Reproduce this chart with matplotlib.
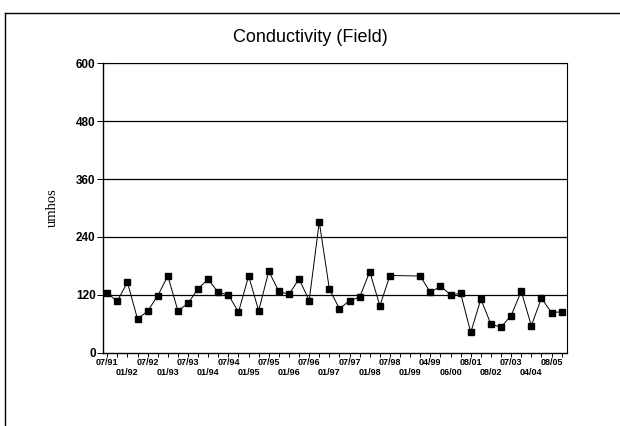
import numpy as np
import matplotlib
matplotlib.use("Agg")
import matplotlib.pyplot as plt
from matplotlib.lines import Line2D

# Quarterly samples, index 0..45 (two missing quarters shown as NaN)
values = [123, 107, 146, 70, 86, 118, 159, 87, 102, 133,
          152, 125, 120, 84, 159, 87, 169, 127, 121, 153,
          108, 271, 132, 91, 108, 115, 168, 97, 160, np.nan,
          np.nan, 159, 125, 138, 120, 123, 42, 111, 59, 53,
          77, 127, 56, 113, 83, 85]
tick_labels = ["07/91", "01/92", "07/92", "01/93", "07/93", "01/94",
               "07/94", "01/95", "07/95", "01/96", "07/96", "01/97",
               "07/97", "01/98", "07/98", "01/99", "04/99", "06/00",
               "08/01", "08/02", "07/03", "04/04", "08/05"]
y_ticks = [0, 120, 240, 360, 480, 600]

fig = plt.figure(figsize=(6.2, 4.26), dpi=100)
ax = fig.add_axes([0.1656, 0.1721, 0.7484, 0.6793])

x = np.arange(len(values))
v = np.array(values, dtype=float)
ok = ~np.isnan(v)
ax.plot(x[ok], v[ok], color="black", lw=0.7, marker="s", ms=3.8,
        mfc="black", mec="black", zorder=3)

ax.set_xlim(-0.45, 45.5)
ax.set_ylim(0, 600)
ax.set_yticks(y_ticks)
ax.set_yticklabels([str(t) for t in y_ticks], fontsize=8.5,
                   fontweight="bold", family="Liberation Sans")
for t in y_ticks[1:]:
    ax.axhline(t, color="black", lw=0.9, zorder=1)

# top-row labels on major ticks, bottom-row labels on minor ticks
major = [i for i in x if i % 4 == 0 and i // 2 < len(tick_labels)]
minor = [i for i in x if i not in major]
ax.set_xticks(major)
ax.set_xticklabels([tick_labels[i // 2] for i in major], fontsize=6.5,
                   fontweight="bold", family="Liberation Sans")
ax.set_xticks(minor, minor=True)
ax.set_xticklabels([tick_labels[i // 2] if (i % 4 == 2 and i // 2 < len(tick_labels)) else ""
                    for i in minor], minor=True, fontsize=6.5,
                   fontweight="bold", family="Liberation Sans")
ax.tick_params(axis="x", which="major", direction="out", length=3, width=0.7, pad=1)
ax.tick_params(axis="x", which="minor", direction="out", length=3, width=0.7, pad=8)
ax.tick_params(axis="y", direction="out", length=4, width=0.7, pad=1)

for s in ["left", "bottom"]:
    ax.spines[s].set_linewidth(1.0)
for s in ["top", "right"]:
    ax.spines[s].set_linewidth(0.8)

ax.set_ylabel("umhos", fontsize=10.5, family="Liberation Serif", labelpad=12)

fig.text(0.5, 0.913, "Conductivity (Field)", ha="center", va="center",
         fontsize=13, family="Liberation Sans")

# outer frame (top and left edges)
fig.add_artist(Line2D([5/620, 1.0], [1 - 13/426, 1 - 13/426],
                      transform=fig.transFigure, color="black", lw=1.0))
fig.add_artist(Line2D([5/620, 5/620], [1 - 13/426, 0.0],
                      transform=fig.transFigure, color="black", lw=1.0))

fig.savefig("out.png", dpi=100)
